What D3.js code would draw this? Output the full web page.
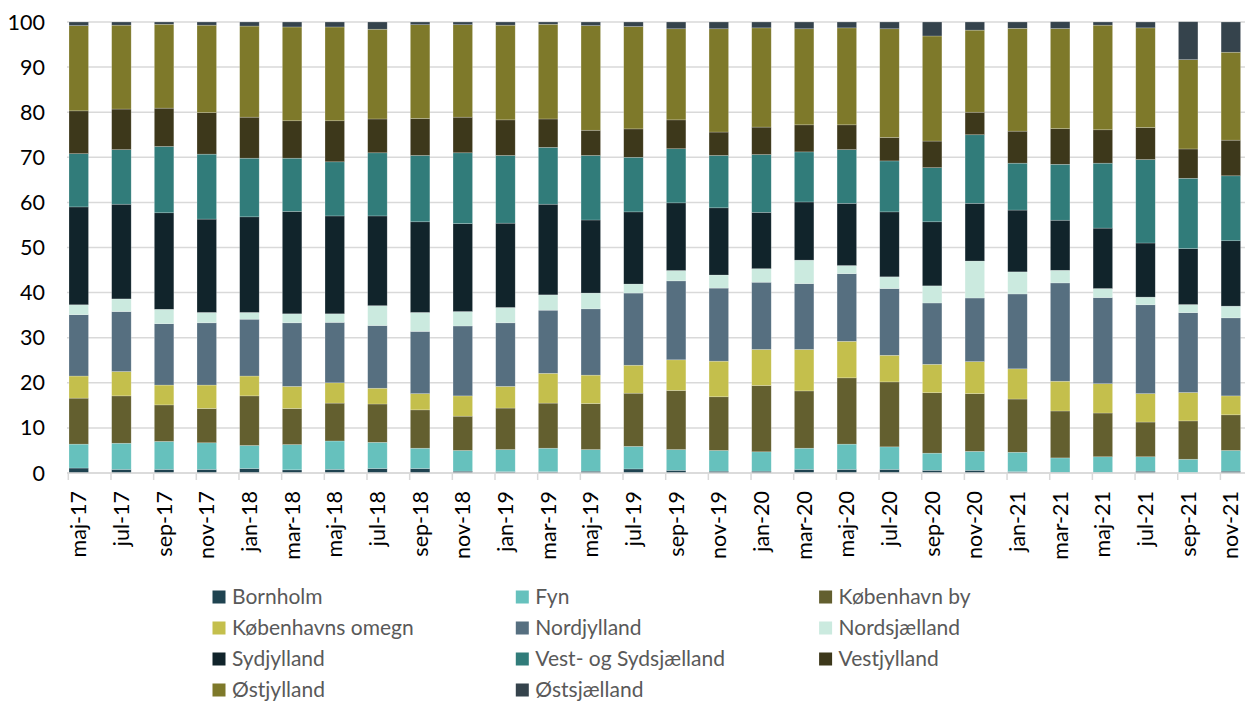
<!DOCTYPE html>
<html>
<head>
<meta charset="utf-8">
<script src="https://cdn.jsdelivr.net/npm/d3@7"></script>
<style>
  body { margin: 0; background: #fff; }
  text { font-family: Lato, "Open Sans", sans-serif; }
</style>
</head>
<body>
<div id="chart"></div>
<script>
var width = 1245, height = 704

// months on the x axis
var months = ["maj-17","jul-17","sep-17","nov-17","jan-18","mar-18","maj-18","jul-18","sep-18","nov-18",
  "jan-19","mar-19","maj-19","jul-19","sep-19","nov-19","jan-20","mar-20","maj-20","jul-20",
  "sep-20","nov-20","jan-21","mar-21","maj-21","jul-21","sep-21","nov-21"]

var regions = ["Bornholm","Fyn","København by","Københavns omegn","Nordjylland","Nordsjælland",
  "Sydjylland","Vest- og Sydsjælland","Vestjylland","Østjylland","Østsjælland"]

// shares in percent, one array per region (bottom to top)
var bornholm = [1.1,0.8,0.8,0.8,1.0,0.7,0.8,1.0,1.0,0.4,0.3,0.3,0.4,0.9,0.6,0.4,0.4,0.8,0.8,0.8,0.6,0.6,0.3,0.15,0.1,0.4,0.05,0.4]
var fyn = [5.3,5.8,6.2,5.9,5.1,5.6,6.3,5.8,4.5,4.6,4.9,5.2,4.8,5.0,4.6,4.6,4.3,4.7,5.6,5.0,3.8,4.2,4.3,3.2,3.5,3.2,3.0,4.6]
var kbhBy = [10.2,10.5,8.1,7.6,11.0,8.0,8.4,8.5,8.5,7.6,9.2,10.0,10.2,11.8,13.1,11.9,14.7,12.7,14.7,14.4,13.4,12.8,11.8,10.4,9.7,7.7,8.5,7.9]
var kbhOmegn = [4.9,5.4,4.4,5.2,4.4,4.9,4.5,3.5,3.6,4.5,4.8,6.6,6.3,6.2,6.8,7.9,8.0,9.2,8.1,5.9,6.3,7.1,6.7,6.6,6.5,6.3,6.3,4.2]
var nordjylland = [13.6,13.3,13.6,13.8,12.6,14.1,13.4,13.9,13.8,15.5,14.1,14.0,14.7,16.0,17.5,16.2,14.9,14.6,15.0,14.8,13.6,14.1,16.6,21.8,19.1,19.7,17.7,17.3]
var nordsjaelland = [2.2,2.8,3.2,2.3,1.5,2.0,1.9,4.4,4.2,3.2,3.4,3.4,3.5,2.0,2.3,2.9,3.0,5.2,1.8,2.6,3.8,8.2,4.9,2.8,2.0,1.7,1.8,2.6]
var sydjylland = [21.7,21.0,21.4,20.7,21.2,22.7,21.7,19.9,20.1,19.5,18.7,20.1,16.2,16.0,15.0,14.9,12.5,12.9,13.8,14.4,14.2,12.8,13.7,11.1,13.4,12.0,12.4,14.5]
var vestSydsjaelland = [11.8,12.1,14.7,14.4,13.0,11.8,12.0,14.0,14.7,15.7,15.0,12.6,14.3,12.1,12.0,11.6,12.8,11.1,11.9,11.3,12.0,15.2,10.4,12.4,14.4,18.5,15.6,14.4]
var vestjylland = [9.5,9.0,8.5,9.2,9.1,8.3,9.1,7.5,8.2,7.9,7.9,6.3,5.6,6.3,6.4,5.2,6.1,6.0,5.5,5.2,5.9,5.0,7.1,7.9,7.4,7.1,6.5,7.9]
var ostjylland = [18.9,18.6,18.6,19.4,20.2,20.8,20.8,19.9,20.8,20.5,21.0,21.0,23.2,22.7,20.2,22.9,22.0,21.3,21.5,24.1,23.3,18.2,22.8,22.2,23.2,22.1,19.8,19.5]
var ostsjaelland = [0.8,0.7,0.5,0.7,0.9,1.1,1.1,1.6,0.6,0.6,0.7,0.5,0.8,1.0,1.5,1.5,1.3,1.5,1.3,1.5,3.1,1.8,1.4,1.5,0.7,1.3,8.4,6.7]

var yTicks = [0,10,20,30,40,50,60,70,80,90,100]

var colors = ["#1f4350","#66c1bd","#635f2f","#c4bf4c","#566f80","#cbeadf",
  "#11242b","#317c7a","#3d381b","#7e792a","#35434c"]

var seriesValues = [bornholm, fyn, kbhBy, kbhOmegn, nordjylland, nordsjaelland,
  sydjylland, vestSydsjaelland, vestjylland, ostjylland, ostsjaelland]

// table for d3.stack
var table = months.map(function(m, i) {
    var row = {month: m}
    regions.forEach(function(r, j) { row[r] = seriesValues[j][i] })
    return row
})

var svg = d3.select("#chart")
    .append("svg")
    .attr("width", width)
    .attr("height", height)

var x = d3.scaleBand()
    .domain(months)
    .range([69, 1240.6])
    .paddingInner(0.543)
    .paddingOuter(0)

var y = d3.scaleLinear()
    .domain([0, 100])
    .range([473, 22])

var color = d3.scaleOrdinal().domain(regions).range(colors)

// gridlines
svg.append("g")
    .selectAll("line")
    .data(yTicks)
    .enter().append("line")
    .attr("x1", 67)
    .attr("x2", width)
    .attr("y1", function(d) { return y(d) })
    .attr("y2", function(d) { return y(d) })
    .attr("stroke", "#d9d9d9")
    .attr("stroke-width", 1.5)

// y labels
svg.append("g")
    .selectAll("text")
    .data(yTicks)
    .enter().append("text")
    .attr("x", 45)
    .attr("y", function(d) { return y(d) })
    .attr("dy", "0.35em")
    .attr("text-anchor", "end")
    .style("font-size", "21.5px")
    .attr("fill", "#000")
    .text(function(d) { return d })

// bars
var stacked = d3.stack().keys(regions)(table)

svg.append("g")
    .selectAll("g")
    .data(stacked)
    .enter().append("g")
    .attr("fill", function(d) { return color(d.key) })
    .selectAll("rect")
    .data(function(d) { return d })
    .enter().append("rect")
    .attr("x", function(d) { return x(d.data.month) })
    .attr("width", x.bandwidth())
    .attr("y", function(d) { return y(d[1]) })
    .attr("height", function(d) { return y(d[0]) - y(d[1]) })
    .attr("stroke", "rgba(255,255,255,0.35)")
    .attr("stroke-width", 0.6)

// x axis
var xAxis = svg.append("g")
xAxis.append("line")
    .attr("x1", 67)
    .attr("x2", width)
    .attr("y1", y(0))
    .attr("y2", y(0))
    .attr("stroke", "#d9d9d9")
    .attr("stroke-width", 1.5)

xAxis.selectAll(".tick")
    .data(months)
    .enter().append("line")
    .attr("x1", function(d) { return x(d) - 0.7 })
    .attr("x2", function(d) { return x(d) - 0.7 })
    .attr("y1", y(0))
    .attr("y2", y(0) + 7)
    .attr("stroke", "#d9d9d9")
    .attr("stroke-width", 1.5)

xAxis.selectAll("text")
    .data(months)
    .enter().append("text")
    .attr("transform", function(d) {
        return "translate(" + (x(d) + x.bandwidth() / 2) + "," + 491 + ") rotate(-90)"
    })
    .attr("dy", "0.35em")
    .attr("text-anchor", "end")
    .style("font-size", "21.5px")
    .attr("fill", "#000")
    .text(function(d) { return d })

// legend
var legend = svg.append("g")
    .selectAll("g")
    .data(regions)
    .enter().append("g")
    .attr("transform", function(d, i) {
        return "translate(" + (212.5 + (i % 3) * 303.3) + "," + (597 + Math.floor(i / 3) * 31) + ")"
    })
legend.append("rect")
    .attr("x", 0)
    .attr("y", -6.5)
    .attr("width", 13)
    .attr("height", 13)
    .attr("fill", function(d) { return color(d) })
legend.append("text")
    .attr("x", 19.5)
    .attr("dy", "0.35em")
    .style("font-size", "21px")
    .attr("fill", "#595959")
    .text(function(d) { return d })
</script>
</body>
</html>
